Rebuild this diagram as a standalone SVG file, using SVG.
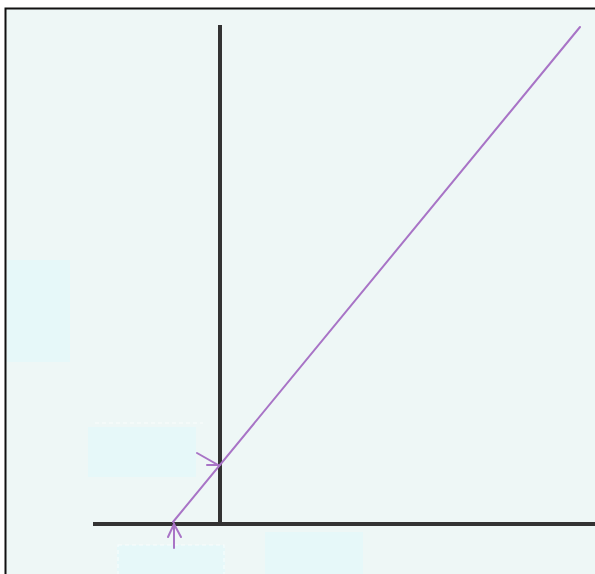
<svg xmlns="http://www.w3.org/2000/svg" width="595" height="574" viewBox="0 0 595 574">
<defs>
<style>
.axis{stroke:#333333;stroke-width:4;fill:none}
.ray{stroke:#a874c6;stroke-width:2;fill:none;stroke-linecap:round}
.box{fill:#e6f8f9;stroke:none}
.dash{fill:none;stroke:#ffffff;stroke-opacity:0.7;stroke-width:1.2;stroke-dasharray:4 3}
</style>
</defs>
<rect x="0" y="0" width="595" height="574" fill="#ffffff"/>
<rect x="5.5" y="8.5" width="600" height="580" fill="#eef7f6" stroke="#111111" stroke-width="2"/>
<g id="boxes">
<rect id="box1" class="box" x="7" y="260" width="63" height="102"/>
<g id="box2"><rect class="box" x="88" y="427" width="108" height="50"/><line class="dash" x1="95" y1="423" x2="203" y2="423"/></g>
<g id="box3"><rect class="box" x="117" y="545" width="108" height="30"/><rect class="dash" x="118" y="545" width="106" height="35"/></g>
<rect id="box4" class="box" x="265" y="532" width="98" height="43"/>
</g>
<g id="axes">
<line class="axis" x1="220" y1="25" x2="220" y2="526"/>
<line class="axis" x1="93" y1="524" x2="595" y2="524"/>
</g>
<g id="connectors">
<line class="ray" x1="173" y1="522" x2="580" y2="27"/>
<polyline class="ray" points="197,453 218,465 207,465"/>
<line class="ray" x1="174" y1="524" x2="174" y2="548"/>
<polyline class="ray" points="168,537 174,524 181,537"/>
</g>
</svg>
